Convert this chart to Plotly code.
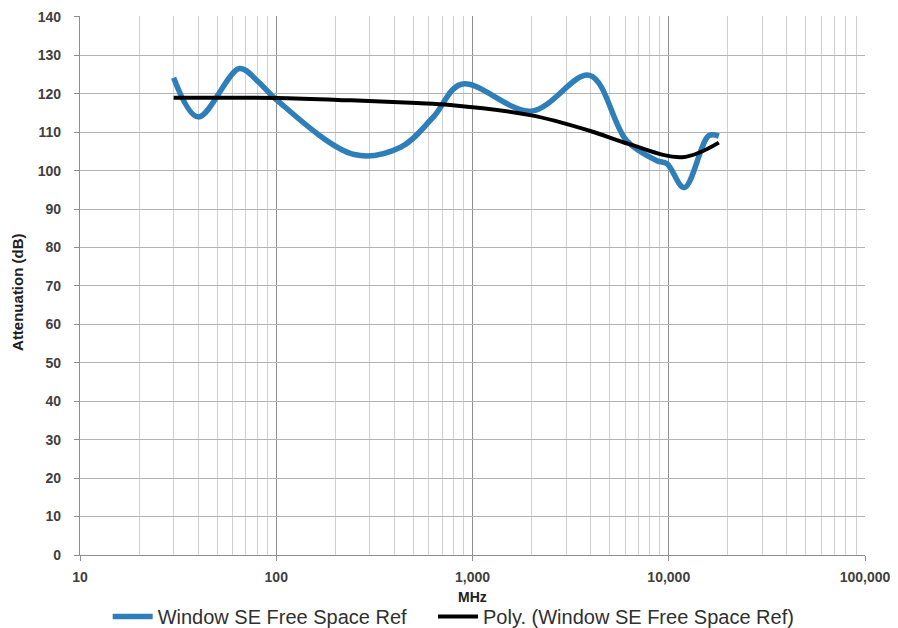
import plotly.graph_objects as go

# Measured curve (MHz, dB)
freq_meas = [30, 40, 65, 80, 100, 250, 430, 630, 880, 2000, 3950, 6100, 8700, 9800, 12000, 16000, 18000]
atten_meas = [124.2, 114.0, 126.6, 123.4, 118.5, 104.2, 106.1, 113.9, 122.5, 115.5, 124.8, 107.8, 102.6, 101.8, 95.6, 109.1, 109.0]

# Polynomial trend line
freq_poly = [30, 100, 240, 520, 770, 2000, 3950, 6300, 11700, 18000]
atten_poly = [119.0, 118.9, 118.3, 117.6, 117.1, 114.4, 110.4, 106.9, 103.5, 107.3]

x_tickvals = [10, 100, 1000, 10000, 100000]
x_ticktext = ["10", "100", "1,000", "10,000", "100,000"]
y_tickvals = list(range(0, 141, 10))

minor_vals = [m * d for d in [10, 100, 1000, 10000] for m in range(2, 10)]

FONT = "Liberation Sans, Arial, sans-serif"

fig = go.Figure()
fig.add_trace(go.Scatter(
    x=freq_meas, y=atten_meas, mode="lines",
    line=dict(color="#2E7EB9", width=5.5, shape="spline", smoothing=1.0),
    name="Window SE Free Space Ref", legend="legend",
))
fig.add_trace(go.Scatter(
    x=freq_poly, y=atten_poly, mode="lines",
    line=dict(color="#000000", width=4, shape="spline", smoothing=1.0),
    name="Poly. (Window SE Free Space Ref)", legend="legend2",
))

legend_common = dict(orientation="h", xref="container", xanchor="left",
                     yref="container", y=0.0, yanchor="bottom",
                     font=dict(size=20, color="#303030"), itemwidth=40,
                     tracegroupgap=0, bgcolor="rgba(0,0,0,0)")

fig.update_layout(
    width=898, height=628,
    margin=dict(l=72, r=41, t=8, b=81, autoexpand=False),
    paper_bgcolor="white", plot_bgcolor="white",
    font=dict(family=FONT, color="#404040"),
    showlegend=True,
    legend=dict(x=0.111, **legend_common),
    legend2=dict(x=0.4733, **legend_common),
    annotations=[
        dict(text="<b>MHz</b>", xref="paper", yref="paper", x=0.5, y=-0.078,
             xanchor="center", yanchor="middle", showarrow=False,
             font=dict(size=14, color="#202020", family=FONT)),
        dict(text="<b>Attenuation (dB)</b>", xref="paper", yref="paper", x=-0.079, y=0.488,
             xanchor="center", yanchor="middle", showarrow=False, textangle=-90,
             font=dict(size=15, color="#202020", family=FONT)),
    ],
)
fig.update_xaxes(
    type="log", range=[1, 5], automargin=False,
    tickmode="array", tickvals=x_tickvals, ticktext=x_ticktext,
    tickfont=dict(size=14, color="#404040", family=FONT, weight="bold"),
    ticklabelstandoff=4, ticklabeloverflow="allow",
    showgrid=True, gridcolor="#8E8E8E", gridwidth=1.3,
    minor=dict(tickmode="array", tickvals=minor_vals, showgrid=True,
               gridcolor="#D2D2D2", gridwidth=1.3, ticks=""),
    showline=True, linecolor="#8E8E8E", linewidth=1.3,
    ticks="outside", ticklen=5, tickcolor="#8E8E8E",
    zeroline=False,
)
fig.update_yaxes(
    range=[0, 140.25], automargin=False,
    tickmode="array", tickvals=y_tickvals,
    tickfont=dict(size=14, color="#404040", family=FONT, weight="bold"),
    ticklabelstandoff=10, ticklabeloverflow="allow",
    showgrid=True, gridcolor="#B4B4B4", gridwidth=1.3,
    showline=True, linecolor="#8E8E8E", linewidth=1.3,
    ticks="outside", ticklen=5, tickcolor="#8E8E8E",
    zeroline=False,
)

fig.write_html("out.html")
